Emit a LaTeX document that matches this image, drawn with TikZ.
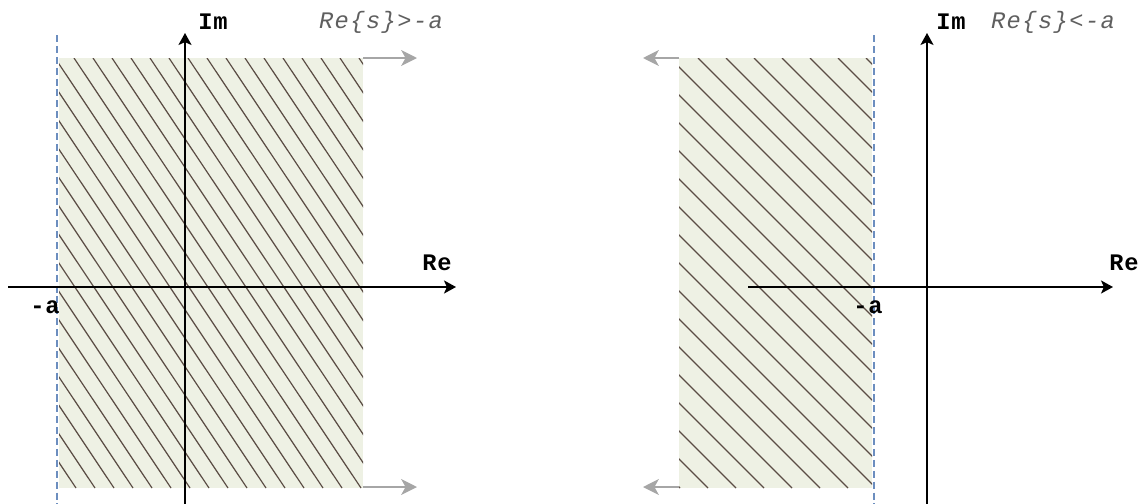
\documentclass[tikz,border=0pt]{standalone}
\usepackage{fontspec}
\setmonofont{Liberation Mono}
\definecolor{RegionFill}{HTML}{EEF1E4}
\definecolor{HatchLine}{HTML}{5B4D45}
\definecolor{BoundBlue}{HTML}{6C8EBF}
\definecolor{HintGray}{HTML}{A6A6A6}
\definecolor{CondGray}{HTML}{5F5F5F}
\usetikzlibrary{arrows.meta,positioning}

\begin{document}
\begin{tikzpicture}[
  x=0.02cm, y=-0.02cm,
  axis/.style={-{Stealth[length=6.8pt, width=7.4pt, inset=1.6pt]}, line width=1.1pt, black},
  hint/.style={-{Stealth[length=9pt, width=9pt, inset=2.5pt]}, line width=1.1pt, color=HintGray},
  bound/.style={draw=BoundBlue, line width=1.1pt, dash pattern=on 4pt off 2.2pt},
  region/.style={fill=RegionFill},
  hatch/.style={draw=HatchLine, line width=0.7pt},
  axlbl/.style={font=\ttfamily\bfseries\fontsize{13.5}{15}\selectfont\addfontfeature{LetterSpace=3}, inner sep=0pt},
  cond/.style={font=\ttfamily\itshape\fontsize{13.5}{15}\selectfont\addfontfeature{LetterSpace=6}, text=CondGray, inner sep=0pt},
]
  \useasboundingbox (0,0) rectangle (1140,504);

  % Left: Re{s} > -a
  \fill[region] (59,58) rectangle (363,488);
  \begin{scope}
    \clip (59,58) rectangle (363,488);
    \foreach \x in {-230,-211,...,370}
      \draw[hatch] (\x,58) -- ++(287,430);
  \end{scope}
  \draw[bound] (57,35) -- (57,504);

  \coordinate (lReFrom) at (8,287);
  \coordinate (lReTo) at (456,287);
  \coordinate (lImFrom) at (185,504);
  \coordinate (lImTo) at (185,33);
  \draw[axis] (lReFrom) -- (lReTo);
  \draw[axis] (lImFrom) -- (lImTo);

  \node[axlbl] (lIm) at (213,22) {Im};
  \node[axlbl] (lRe) at (437,263) {Re};
  \node[axlbl] (lMinusA) at (45,307) {-a};
  \node[cond] (lCond) at (381,22) {Re\{s\}>-a};

  \coordinate (lTopEdge) at (363,58);
  \coordinate (lTopTip) at (417,58);
  \coordinate (lBotEdge) at (363,487);
  \coordinate (lBotTip) at (417,487);
  \draw[hint] (lTopEdge) -- (lTopTip);
  \draw[hint] (lBotEdge) -- (lBotTip);

  % Right: Re{s} < -a
  \fill[region] (679,58) rectangle (872,488);
  \begin{scope}
    \clip (679,58) rectangle (872,488);
    \foreach \x in {250,278,...,880}
      \draw[hatch] (\x,58) -- ++(430,430);
  \end{scope}
  \draw[bound] (874,35) -- (874,504);

  \coordinate (rReFrom) at (748,287);
  \coordinate (rReTo) at (1113,287);
  \coordinate (rImFrom) at (927,504);
  \coordinate (rImTo) at (927,33);
  \draw[axis] (rReFrom) -- (rReTo);
  \draw[axis] (rImFrom) -- (rImTo);

  \node[axlbl] (rIm) at (951,22) {Im};
  \node[axlbl] (rRe) at (1124,263) {Re};
  \node[axlbl] (rMinusA) at (868,307) {-a};
  \node[cond] (rCond) at (1053,22) {Re\{s\}<-a};

  \coordinate (rTopEdge) at (679,58);
  \coordinate (rTopTip) at (643,58);
  \coordinate (rBotEdge) at (679,487);
  \coordinate (rBotTip) at (643,487);
  \draw[hint] (rTopEdge) -- (rTopTip);
  \draw[hint] (rBotEdge) -- (rBotTip);
\end{tikzpicture}
\end{document}
